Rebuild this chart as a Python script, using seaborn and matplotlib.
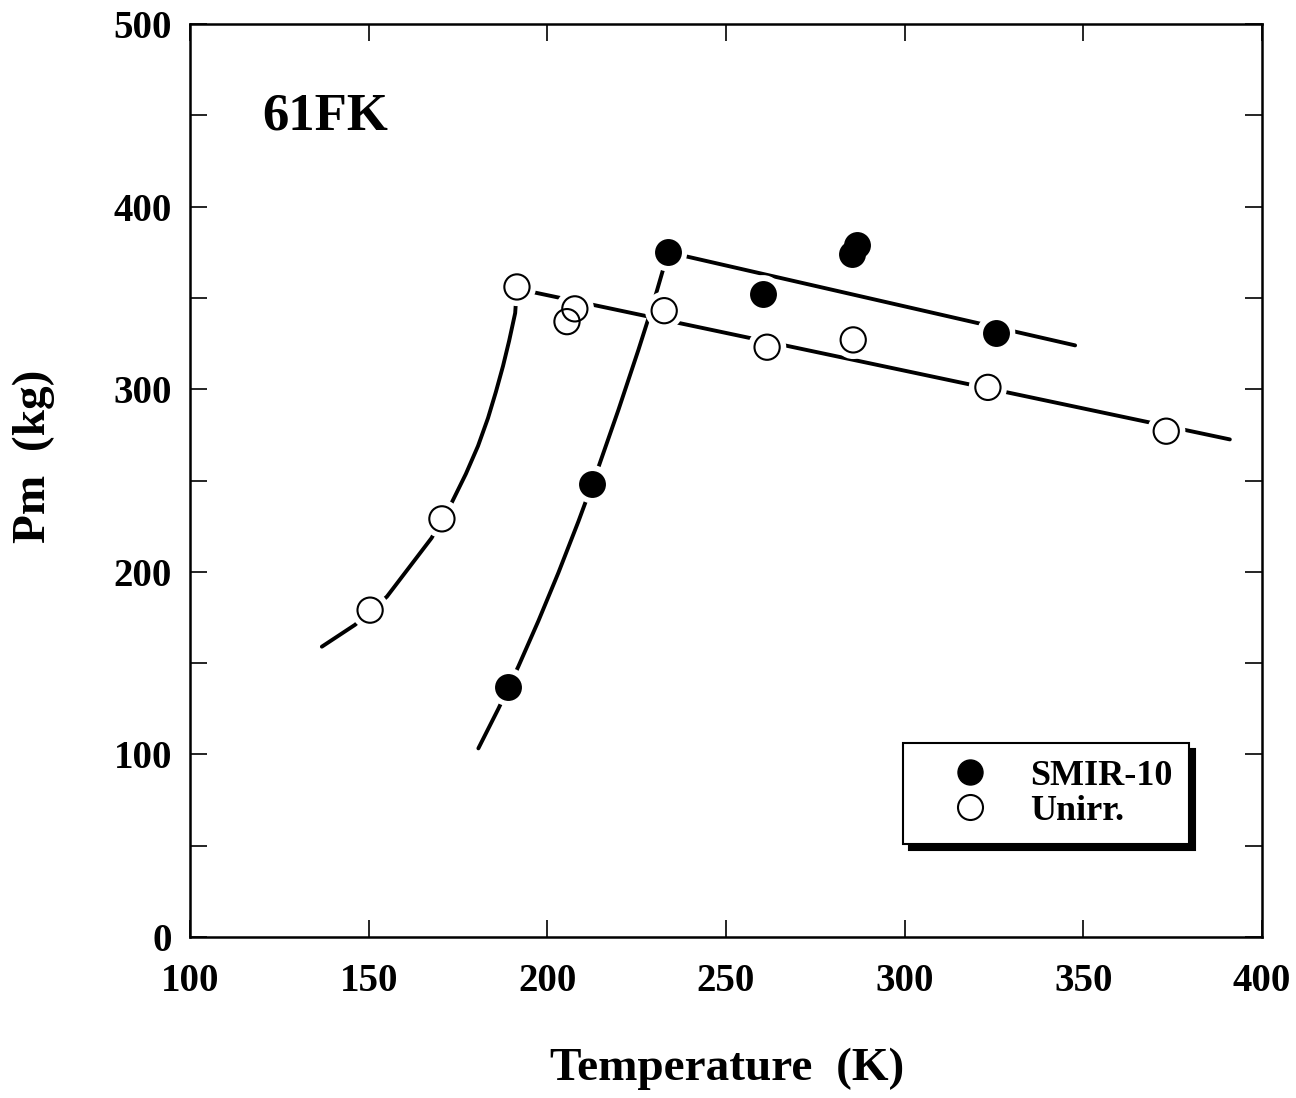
import numpy as np
import pandas as pd
import matplotlib
matplotlib.use("Agg")
import matplotlib.pyplot as plt
import seaborn as sns
from matplotlib.lines import Line2D
from matplotlib.ticker import MultipleLocator

# ---------------- data ----------------
smir_T = [189.0, 212.5, 233.8, 260.4, 285.3, 286.7, 325.6]
smir_P = [137, 248, 375, 352, 374, 379, 331]

unirr_T = [150.4, 170.5, 191.5, 205.5, 207.7, 232.7, 261.5, 285.6, 323.3, 373.2]
unirr_P = [179, 229, 356, 337, 344, 343, 323, 327, 301, 277]

# fitted curves
smir_curve_T = [180.7, 186.3, 191.9, 197.5, 203.1, 208.7, 214.3, 219.9, 225.5, 229.7, 233.8]
smir_curve_P = [103.3, 125.0, 148.2, 173.1, 199.5, 227.6, 257.3, 288.7, 321.6, 347.4, 375.0]
smir_shelf_T = [233.8, 347.7]
smir_shelf_P = [375, 324]

unirr_curve_T = [136.9, 146.2, 155.1, 167.6, 173.2, 177.2, 180.6, 183.4, 185.6, 187.6, 189.3, 191.0, 191.5]
unirr_curve_P = [159.0, 171.0, 186.4, 218.5, 237.7, 253.6, 268.9, 284.2, 298.5, 312.7, 326.4, 341.7, 356.0]
unirr_shelf_T = [191.5, 391.0]
unirr_shelf_P = [355, 272.5]

annotation = "61FK"
labels = ["SMIR-10", "Unirr."]

# ---------------- style ----------------
sns.set_theme(style="ticks")
plt.rcParams["font.family"] = ["Liberation Serif", "DejaVu Serif"]
plt.rcParams["font.weight"] = "bold"
for key in ["text.color", "axes.labelcolor", "xtick.color", "ytick.color", "axes.edgecolor"]:
    plt.rcParams[key] = "black"

fig = plt.figure(figsize=(12.96, 10.98), dpi=100)
ax = fig.add_axes([190/1296, 1 - 937/1098, (1262-190)/1296, (937-24)/1098])

line_kw = dict(color="black", linewidth=2.8, sort=False, estimator=None, legend=False, zorder=2)
for T, P in [(smir_curve_T, smir_curve_P), (smir_shelf_T, smir_shelf_P),
             (unirr_curve_T, unirr_curve_P), (unirr_shelf_T, unirr_shelf_P)]:
    sns.lineplot(x=T, y=P, ax=ax, **line_kw)

# white halos that create the gaps around markers
all_T = smir_T + unirr_T
all_P = smir_P + unirr_P
sns.scatterplot(x=all_T, y=all_P, ax=ax, s=760, color="white", edgecolor="none",
                linewidth=0, zorder=3, legend=False)

sns.scatterplot(x=smir_T, y=smir_P, ax=ax, s=330, color="black", edgecolor="black",
                linewidth=1.2, zorder=4, legend=False)
sns.scatterplot(x=unirr_T, y=unirr_P, ax=ax, s=330, facecolor="none", edgecolor="black",
                linewidth=1.5, zorder=4, legend=False)

ax.set_xlim(100, 400)
ax.set_ylim(0, 500)
ax.xaxis.set_major_locator(MultipleLocator(50))
ax.yaxis.set_major_locator(MultipleLocator(100))
ax.yaxis.set_minor_locator(MultipleLocator(50))
ax.xaxis.set_minor_locator(MultipleLocator(50))

for side in ["left", "right", "top", "bottom"]:
    ax.spines[side].set_visible(True)
    ax.spines[side].set_linewidth(1.8)
    ax.spines[side].set_color("black")

ax.tick_params(which="both", direction="in", length=12, width=1.2, color="black",
               top=True, right=True)
ax.tick_params(axis="y", which="major", labelsize=28, pad=13)
ax.tick_params(axis="x", which="major", labelsize=28, pad=19)
for lab in ax.get_xticklabels() + ax.get_yticklabels():
    lab.set_fontweight("bold")
    lab.set_color("black")

ax.set_xlabel("Temperature  (K)", fontsize=34, fontweight="bold", color="black")
ax.set_ylabel("Pm  (kg)", fontsize=34, fontweight="bold", color="black")
ax.xaxis.set_label_coords(0.501, -0.121)
ax.yaxis.set_label_coords(-0.126, 0.526)

ax.text(120.2, 442, annotation, fontsize=38, fontweight="bold", ha="left", va="baseline",
        color="black")

handles = [
    Line2D([], [], linestyle="none", marker="o", markersize=18, markerfacecolor="black",
           markeredgecolor="black"),
    Line2D([], [], linestyle="none", marker="o", markersize=18, markerfacecolor="white",
           markeredgecolor="black", markeredgewidth=1.5),
]
leg = ax.legend(handles, labels, loc="upper left", bbox_to_anchor=(0.665, 0.2125),
                borderaxespad=0, fontsize=26, frameon=True, fancybox=False,
                handlelength=2.83, handletextpad=0.25, labelspacing=0.05, borderpad=0.45,
                shadow={"ox": 4.5, "oy": -4.5, "color": "black", "alpha": 1})
leg.get_frame().set_edgecolor("black")
leg.get_frame().set_linewidth(1.5)
for t in leg.get_texts():
    t.set_fontweight("bold")
    t.set_color("black")

fig.savefig("out.png", dpi=100)
